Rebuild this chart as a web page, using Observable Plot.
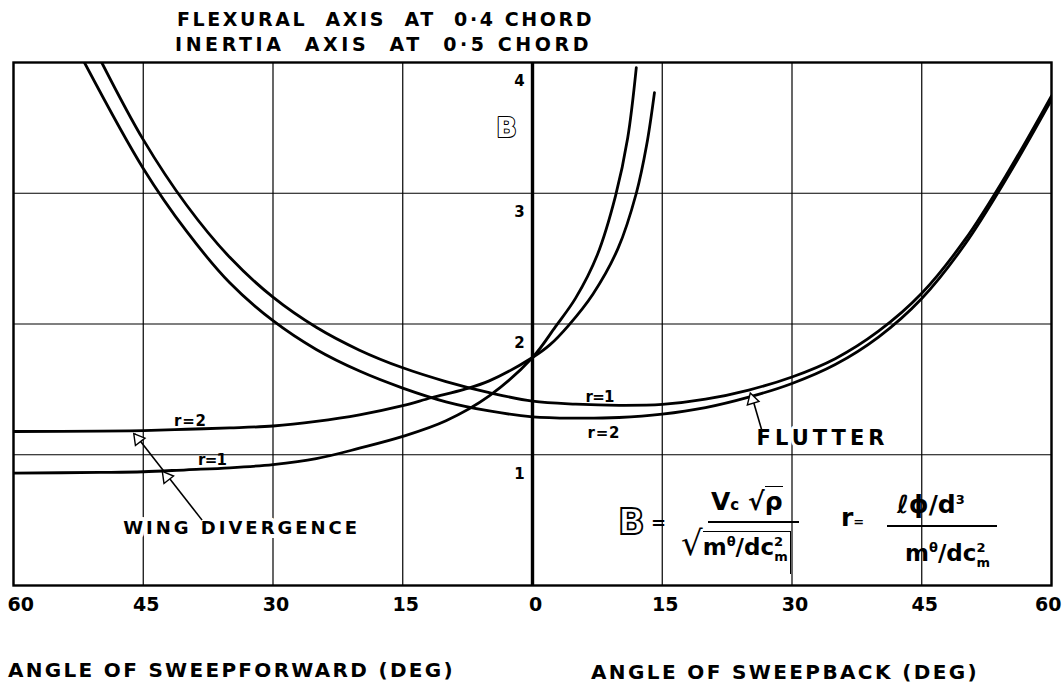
<!DOCTYPE html>
<html><head><meta charset="utf-8">
<script src="https://cdn.jsdelivr.net/npm/d3@7"></script>
<script src="https://cdn.jsdelivr.net/npm/@observablehq/plot@0.6"></script>
<style>
body{margin:0;background:#fff;}
#wrap{position:relative;width:1062px;height:687px;overflow:hidden;font-family:"DejaVu Sans",sans-serif;color:#000;}
#chart{position:absolute;left:0;top:0;}
.a{position:absolute;white-space:nowrap;line-height:1;}
.b{font-weight:bold;}
.ov{border-top:1.8px solid #000;}
.hol{color:#fff;-webkit-text-stroke:1.8px #000;font-weight:bold;}
.sup{position:relative;top:-9px;font-size:13px;}
.sub{position:relative;top:6px;font-size:13px;}
</style></head><body>
<div id="wrap">
<div id="chart"></div>
<div class="a b fit" data-w="417" style="left:177px;top:10px;font-size:19px;">FLEXURAL&nbsp; AXIS&nbsp; AT&nbsp; 0·4 CHORD</div>
<div class="a b fit" data-w="417" style="left:175px;top:35px;font-size:19px;">INERTIA&nbsp; AXIS&nbsp; AT&nbsp; 0·5 CHORD</div>
<div class="a b fit" data-w="447" style="left:8px;top:660px;font-size:20px;">ANGLE OF SWEEPFORWARD (DEG)</div>
<div class="a b fit" data-w="388" style="left:591px;top:662px;font-size:20px;">ANGLE OF SWEEPBACK (DEG)</div>
<!-- formula -->
<div class="a hol" style="left:618px;top:505px;font-size:35px;">B</div>
<div class="a b" style="left:651px;top:514px;font-size:18px;">=</div>
<div class="a" style="left:708px;top:521px;width:91px;height:2.4px;background:#000;"></div>
<div class="a b" style="left:711px;top:489px;font-size:25px;">V<span style="font-size:15px;">c</span> √<span class="ov">ρ</span></div>
<div class="a b" style="left:681px;top:526px;font-size:23px;"><span style="font-size:34px;font-weight:normal;">√</span><span class="ov" style="border-right:1.8px solid #000;padding:2px 2px 14px 0;">m<span class="sup">θ</span>/dc<span class="sup">2</span><span class="sub" style="margin-left:-9px;">m</span></span></div>
<div class="a b" style="left:841px;top:505px;font-size:25px;">r<span style="font-size:13px;">=</span></div>
<div class="a" style="left:887px;top:525px;width:110px;height:2.4px;background:#000;"></div>
<div class="a b" style="left:897px;top:492px;font-size:25px;">ℓϕ/d<span class="sup">3</span></div>
<div class="a b" style="left:905px;top:542px;font-size:23px;">m<span class="sup">θ</span>/dc<span class="sup">2</span><span class="sub" style="margin-left:-9px;">m</span></div>
</div>
<script>
// ---- data ----
const sweepTicks = [-60, -45, -30, -15, 0, 15, 30, 45, 60];
const bTicks = [1, 2, 3, 4];

const flutterR1X = [-49.8, -45, -40, -35, -30, -25, -20, -15, -10, -5, 0, 5, 10, 15, 20, 25, 30, 35, 40, 45, 50, 55, 60];
const flutterR1B = [4.0, 3.41, 2.91, 2.51, 2.205, 1.975, 1.80, 1.665, 1.56, 1.475, 1.41, 1.387, 1.378, 1.385, 1.425, 1.495, 1.595, 1.735, 1.945, 2.235, 2.645, 3.165, 3.745];

const flutterR2X = [-51.8, -45, -40, -35, -30, -25, -20, -15, -10, -5, 0, 5, 10, 15, 20, 25, 30, 35, 40, 45, 50, 55, 60];
const flutterR2B = [4.0, 3.19, 2.71, 2.315, 2.025, 1.805, 1.64, 1.51, 1.405, 1.335, 1.29, 1.28, 1.285, 1.31, 1.36, 1.44, 1.545, 1.69, 1.90, 2.195, 2.61, 3.135, 3.715];

const divR1X = [-60, -50, -45, -40, -35, -30, -25, -20, -15, -10, -5, 0, 2.66, 5, 7.5, 9.6, 11.0, 12.0];
const divR1B = [0.86, 0.865, 0.87, 0.885, 0.90, 0.925, 0.97, 1.05, 1.14, 1.26, 1.45, 1.744, 1.98, 2.20, 2.53, 2.98, 3.42, 3.96];

const divR2X = [-60, -50, -45, -40, -35, -30, -25, -20, -15, -11.7, -7.9, -5, 0, 2, 4.18, 7, 9.9, 12.0, 13.2, 14.1];
const divR2B = [1.178, 1.18, 1.185, 1.195, 1.205, 1.22, 1.255, 1.305, 1.375, 1.436, 1.50, 1.565, 1.744, 1.84, 1.99, 2.23, 2.58, 3.0, 3.37, 3.77];

const curveLabels = ["r=2", "r=1", "r=1", "r=2"];
const curveLabelX = [-39.6, -37.0, 7.8, 8.2];
const curveLabelB = [1.254, 0.96, 1.44, 1.165];

// ---- build tables ----
const series = (xs, bs, k) => xs.map((x, i) => ({x, b: bs[i], k}));
const curves = [
  ...series(flutterR1X, flutterR1B, "flutter r=1"),
  ...series(flutterR2X, flutterR2B, "flutter r=2"),
  ...series(divR1X, divR1B, "divergence r=1"),
  ...series(divR2X, divR2B, "divergence r=2")
];
const labels = curveLabels.map((t, i) => ({t, x: curveLabelX[i], b: curveLabelB[i]}));
const innerTicks = sweepTicks.filter(d => Math.abs(d) < 60);

const chart = Plot.plot({
  width: 1062,
  height: 687,
  marginLeft: 13,
  marginRight: 11,
  marginTop: 62,
  marginBottom: 102,
  x: {domain: [-60, 60], axis: null},
  y: {domain: [0, 4], axis: null},
  style: {fontFamily: "DejaVu Sans, sans-serif", background: "white", color: "black", overflow: "visible"},
  marks: [
    Plot.gridX(sweepTicks, {stroke: "black", strokeOpacity: 1, strokeWidth: 1.2}),
    Plot.gridY(bTicks, {stroke: "black", strokeOpacity: 1, strokeWidth: 1.2}),
    Plot.ruleX([0], {strokeWidth: 3.4}),
    Plot.frame({stroke: "black", strokeWidth: 2.4}),
    Plot.text(["WING DIVERGENCE"], {x: -33.8, y: 0.44, text: d => d, fontSize: 18, fontWeight: "bold", stroke: "white", strokeWidth: 8, fill: "black"}),
    Plot.text(["FLUTTER"], {x: 33.3, y: 1.127, text: d => d, fontSize: 21, fontWeight: "bold", stroke: "white", strokeWidth: 6, fill: "black"}),
    Plot.line(curves, {x: "x", y: "b", z: "k", curve: "catmull-rom", stroke: "black", strokeWidth: 2.8, clip: true}),
    // arrows
    Plot.link([{x1: -38.2, y1: 0.50, x2: -46.0, y2: 1.16}], {x1: "x1", y1: "y1", x2: "x2", y2: "y2", strokeWidth: 1.6}),
    Plot.link([{x1: 26.5, y1: 1.19, x2: 25.35, y2: 1.45}], {x1: "x1", y1: "y1", x2: "x2", y2: "y2", strokeWidth: 1.6}),
    Plot.dot([{x: -45.6, b: 1.12}, {x: -42.3, b: 0.83}], {x: "x", y: "b", symbol: "triangle", r: 4.5, fill: "white", stroke: "black", strokeWidth: 1.4, rotate: -38}),
    Plot.dot([{x: 25.4, b: 1.42}], {x: "x", y: "b", symbol: "triangle", r: 4.5, fill: "white", stroke: "black", strokeWidth: 1.4, rotate: -16}),
    Plot.text(labels, {x: "x", y: "b", text: "t", fontSize: 15, fontWeight: "bold"}),
    // y tick labels and axis name
    Plot.text(bTicks, {x: 0, y: d => d, text: d => String(d), dx: -13, dy: 19, fontSize: 15, fontWeight: "bold"}),
    Plot.text(["B"], {x: -3.0, y: 3.5, text: d => d, fontSize: 27, fontWeight: "bold", fill: "white", stroke: "black", strokeWidth: 2}),
    // x tick labels (absolute angle)
    Plot.text(innerTicks, {x: d => d, frameAnchor: "bottom", text: d => String(Math.abs(d)), dy: 25, dx: 3, fontSize: 19, fontWeight: "bold"}),
    Plot.text([-60], {x: d => d, frameAnchor: "bottom", text: d => String(Math.abs(d)), dy: 25, dx: -6, textAnchor: "start", fontSize: 19, fontWeight: "bold"}),
    Plot.text([60], {x: d => d, frameAnchor: "bottom", text: d => String(Math.abs(d)), dy: 25, dx: 10, textAnchor: "end", fontSize: 19, fontWeight: "bold"})
  ]
});
document.getElementById("chart").append(chart);

// letter-spaced lettering like the hand-drawn original
const fitSvg = {"WING DIVERGENCE": 234, "FLUTTER": 128, "r=2": 32, "r=1": 29};
d3.select(chart).selectAll("text").each(function () {
  const w = fitSvg[this.textContent];
  if (w) d3.select(this).attr("textLength", w).attr("lengthAdjust", "spacing");
});
document.querySelectorAll(".fit").forEach(el => {
  const target = +el.dataset.w;
  const n = el.textContent.length;
  const w = el.getBoundingClientRect().width;
  el.style.letterSpacing = ((target - w) / n) + "px";
});
</script>
</body></html>
